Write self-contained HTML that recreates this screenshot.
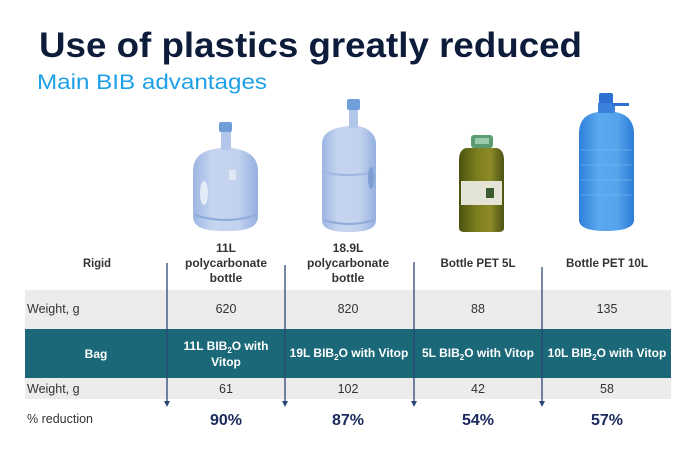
<!DOCTYPE html>
<html>
<head>
<meta charset="utf-8">
<style>
  html,body{margin:0;padding:0;background:#fff;}
  svg{display:block;}
  text{font-family:"Liberation Sans", Arial, sans-serif;}
</style>
</head>
<body>
<svg width="680" height="450" viewBox="0 0 680 450" xmlns="http://www.w3.org/2000/svg">
  <defs>
    <linearGradient id="pc" x1="0" y1="0" x2="1" y2="0">
      <stop offset="0" stop-color="#9cb6e2"/>
      <stop offset="0.3" stop-color="#c6d5ef"/>
      <stop offset="0.7" stop-color="#c2d2ee"/>
      <stop offset="1" stop-color="#94afdf"/>
    </linearGradient>
    <linearGradient id="oil" x1="0" y1="0" x2="1" y2="0">
      <stop offset="0" stop-color="#4a5210"/>
      <stop offset="0.4" stop-color="#7d7e1e"/>
      <stop offset="0.7" stop-color="#8b8a26"/>
      <stop offset="1" stop-color="#4c5412"/>
    </linearGradient>
    <linearGradient id="pet" x1="0" y1="0" x2="1" y2="0">
      <stop offset="0" stop-color="#2f80da"/>
      <stop offset="0.35" stop-color="#5aa8ee"/>
      <stop offset="0.7" stop-color="#56a4ec"/>
      <stop offset="1" stop-color="#2c7bd6"/>
    </linearGradient>
  </defs>
  <rect width="680" height="450" fill="#ffffff"/>

  <!-- Title -->
  <text x="39" y="57" font-size="35" font-weight="bold" fill="#0e1c3c" textLength="543" lengthAdjust="spacingAndGlyphs">Use of plastics greatly reduced</text>
  <text x="37" y="89" font-size="21" fill="#1ea0e8" textLength="230" lengthAdjust="spacingAndGlyphs">Main BIB advantages</text>

  <!-- Bottle 1: 11L polycarbonate -->
  <path d="M221 148 C200 150 193 158 193 172 L193 216 C193 228 205 231 225 231 C246 231 258 228 258 216 L258 172 C258 158 250 150 231 148 Z" fill="url(#pc)"/>
  <rect x="221" y="130" width="10" height="20" fill="#b3c7ea"/>
  <rect x="219" y="122" width="13" height="10" rx="2" fill="#6f9ed8"/>
  <ellipse cx="204" cy="193" rx="4" ry="12" fill="#e4ecf8"/>
  <rect x="229" y="170" width="7" height="10" fill="#dfe6f4"/>
  <path d="M195 215 Q225 225 256 215" stroke="#8fa9da" stroke-width="2" fill="none"/>

  <!-- Bottle 2: 18.9L polycarbonate -->
  <path d="M348 126 C330 128 322 134 322 144 L322 220 C322 229 332 232 349 232 C366 232 376 229 376 220 L376 144 C376 134 368 128 358 126 Z" fill="url(#pc)"/>
  <rect x="349" y="108" width="9" height="20" fill="#b3c7ea"/>
  <rect x="347" y="99" width="13" height="11" rx="2" fill="#6f9ed8"/>
  <path d="M322 172 Q349 178 376 172" stroke="#9fb7e2" stroke-width="2" fill="none"/>
  <ellipse cx="371" cy="178" rx="3" ry="11" fill="#7f9ed4"/>
  <path d="M324 220 Q349 228 374 220" stroke="#8fa9da" stroke-width="2" fill="none"/>

  <!-- Bottle 3: olive oil PET 5L -->
  <path d="M466 148 L497 148 Q504 150 504 160 L504 228 Q504 232 498 232 L465 232 Q459 232 459 228 L459 160 Q459 150 466 148 Z" fill="url(#oil)"/>
  <rect x="471" y="135" width="22" height="13" rx="3" fill="#5c9c72"/>
  <rect x="475" y="138" width="14" height="6" fill="#9ccbaa"/>
  <rect x="461" y="181" width="41" height="24" fill="#e4e4d6"/>
  <rect x="486" y="188" width="8" height="10" fill="#3c5a30"/>

  <!-- Bottle 4: PET 10L -->
  <path d="M598 112 C584 114 579 122 579 134 L579 220 C579 228 590 231 606 231 C622 231 634 228 634 220 L634 134 C634 122 628 114 615 112 Z" fill="url(#pet)"/>
  <rect x="599" y="93" width="14" height="12" rx="2" fill="#2d6fd2"/>
  <rect x="598" y="103" width="17" height="10" fill="#3a82dc"/>
  <rect x="612" y="103" width="17" height="3" fill="#2d6fd2"/>
  <path d="M581 150 H632 M581 165 H632 M581 180 H632 M581 195 H632" stroke="#78b6f0" stroke-width="1" fill="none" opacity="0.6"/>

  <!-- Table bands -->
  <rect x="25" y="290" width="646" height="39" fill="#ececec"/>
  <rect x="25" y="329" width="646" height="49" fill="#1a6878"/>
  <rect x="25" y="378" width="646" height="21" fill="#ececec"/>

  <!-- Header row -->
  <g font-size="12" font-weight="bold" fill="#333" text-anchor="middle">
    <text x="97" y="267" textLength="28" lengthAdjust="spacingAndGlyphs">Rigid</text>
    <text x="226" y="252">11L</text>
    <text x="226" y="267">polycarbonate</text>
    <text x="226" y="282">bottle</text>
    <text x="348" y="252">18.9L</text>
    <text x="348" y="267">polycarbonate</text>
    <text x="348" y="282">bottle</text>
    <text x="478" y="267" textLength="75" lengthAdjust="spacingAndGlyphs">Bottle PET 5L</text>
    <text x="607" y="267" textLength="82" lengthAdjust="spacingAndGlyphs">Bottle PET 10L</text>
  </g>

  <!-- Weight rigid -->
  <g font-size="12.5" fill="#333">
    <text x="27" y="313">Weight, g</text>
    <text x="226" y="313" text-anchor="middle">620</text>
    <text x="348" y="313" text-anchor="middle">820</text>
    <text x="478" y="313" text-anchor="middle">88</text>
    <text x="607" y="313" text-anchor="middle">135</text>
  </g>

  <!-- Bag row -->
  <g font-size="12" font-weight="bold" fill="#ffffff" text-anchor="middle">
    <text x="96" y="358">Bag</text>
    <text x="226" y="350">11L BIB<tspan font-size="8" dy="3">2</tspan><tspan dy="-3">O with</tspan></text>
    <text x="226" y="366">Vitop</text>
    <text x="349" y="357">19L BIB<tspan font-size="8" dy="3">2</tspan><tspan dy="-3">O with Vitop</tspan></text>
    <text x="478" y="357">5L BIB<tspan font-size="8" dy="3">2</tspan><tspan dy="-3">O with Vitop</tspan></text>
    <text x="607" y="357">10L BIB<tspan font-size="8" dy="3">2</tspan><tspan dy="-3">O with Vitop</tspan></text>
  </g>

  <!-- Weight bag -->
  <g font-size="12.5" fill="#333">
    <text x="27" y="393">Weight, g</text>
    <text x="226" y="393" text-anchor="middle">61</text>
    <text x="348" y="393" text-anchor="middle">102</text>
    <text x="478" y="393" text-anchor="middle">42</text>
    <text x="607" y="393" text-anchor="middle">58</text>
  </g>

  <!-- % reduction -->
  <text x="27" y="423" font-size="12.5" fill="#333">% reduction</text>
  <g font-size="16" font-weight="bold" fill="#1b2a5c" text-anchor="middle">
    <text x="226" y="425">90%</text>
    <text x="348" y="425">87%</text>
    <text x="478" y="425">54%</text>
    <text x="607" y="425">57%</text>
  </g>

  <!-- Arrows -->
  <g stroke="#2b4877" stroke-width="1.3">
    <line x1="167" y1="263" x2="167" y2="402"/>
    <line x1="285" y1="265" x2="285" y2="402"/>
    <line x1="414" y1="262" x2="414" y2="402"/>
    <line x1="542" y1="267" x2="542" y2="402"/>
  </g>
  <g fill="#2b4877">
    <polygon points="164,401 170,401 167,407"/>
    <polygon points="282,401 288,401 285,407"/>
    <polygon points="411,401 417,401 414,407"/>
    <polygon points="539,401 545,401 542,407"/>
  </g>
</svg>
</body>
</html>
